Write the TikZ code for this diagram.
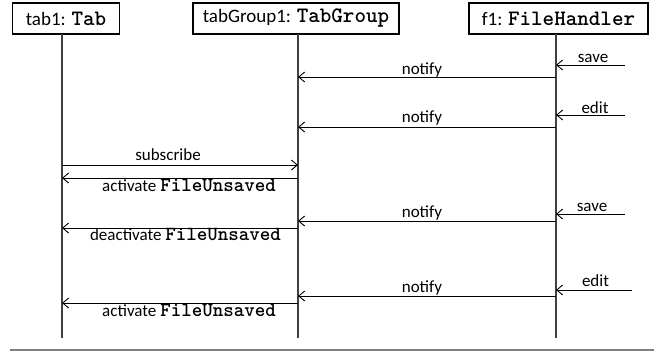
\documentclass[tikz,border=0pt]{standalone}
\usepackage{fontspec}
\setmainfont{Carlito}
\usetikzlibrary{arrows.meta}
\newcommand{\cls}[1]{{\ttfamily\bfseries #1}}
\begin{document}
\begin{tikzpicture}[x=1pt,y=-1pt,
  obj/.style={draw,line width=1.4pt,minimum height=31pt,inner sep=0pt,font=\fontsize{19}{22}\selectfont},
  life/.style={line width=1.3pt,draw=black!75},
  msg/.style={line width=0.9pt,-{Straight Barb[length=6pt,width=10pt,line width=0.9pt]}},
  lbl/.style={anchor=base,inner sep=0pt,font=\fontsize{17}{20}\selectfont}]
\useasboundingbox (0,0) rectangle (654,351);
% objects
\node[obj,minimum width=107pt] (tab1) at (66,18.5) {tab1: \cls{\fontsize{22}{24}\selectfont Tab}};
\node[obj,minimum width=206pt] (grp) at (296,18.5) {tabGroup1: \cls{\fontsize{22}{24}\selectfont TabGroup}};
\node[obj,minimum width=179pt] (f1) at (558.5,18.5) {f1: \cls{\fontsize{22}{24}\selectfont FileHandler}};
% lifeline coordinates
\coordinate (L1) at (62,34);
\coordinate (L2) at (298,34);
\coordinate (L3) at (556,34);
\coordinate (E1) at (62,338);
\coordinate (E2) at (298,338);
\coordinate (E3) at (556,338);
\draw[life] (L1) -- (E1);
\draw[life] (L2) -- (E2);
\draw[life] (L3) -- (E3);
% external sources
\coordinate (s1) at (625,65);
\coordinate (s2) at (625,115);
\coordinate (s3) at (625,214);
\coordinate (s4) at (632,290);
% messages
\draw[msg] (s1) -- (L3 |- s1);
\draw[msg] (L3 |- 0,77) -- (L2 |- 0,77);
\draw[msg] (s2) -- (L3 |- s2);
\draw[msg] (L3 |- 0,127) -- (L2 |- 0,127);
\draw[msg] (L1 |- 0,165) -- (L2 |- 0,165);
\draw[msg] (L2 |- 0,178) -- (L1 |- 0,178);
\draw[msg] (s3) -- (L3 |- s3);
\draw[msg] (L3 |- 0,221) -- (L2 |- 0,221);
\draw[msg] (L2 |- 0,228) -- (L1 |- 0,228);
\draw[msg] (s4) -- (L3 |- s4);
\draw[msg] (L3 |- 0,296) -- (L2 |- 0,296);
\draw[msg] (L2 |- 0,303) -- (L1 |- 0,303);
% labels
\node[lbl] (m1) at (593,62) {save};
\node[lbl] (m2) at (422,74) {notify};
\node[lbl] (m3) at (595,113) {edit};
\node[lbl] (m4) at (422,122) {notify};
\node[lbl] (m5) at (168,160) {subscribe};
\node[lbl] (m6) at (189,191) {activate \cls{\fontsize{20}{22}\selectfont FileUnsaved}};
\node[lbl] (m7) at (592,211) {save};
\node[lbl] (m8) at (422,217) {notify};
\node[lbl] (m9) at (185.5,240) {deactivate \cls{\fontsize{20}{22}\selectfont FileUnsaved}};
\node[lbl] (m10) at (595.5,286) {edit};
\node[lbl] (m11) at (422,292) {notify};
\node[lbl] (m12) at (189,316) {activate \cls{\fontsize{20}{22}\selectfont FileUnsaved}};
% bottom rule
\coordinate (b1) at (10,350);
\coordinate (b2) at (654,350);
\draw[line width=2.5pt,draw=black!50] (b1) -- (b2);
\end{tikzpicture}
\end{document}
